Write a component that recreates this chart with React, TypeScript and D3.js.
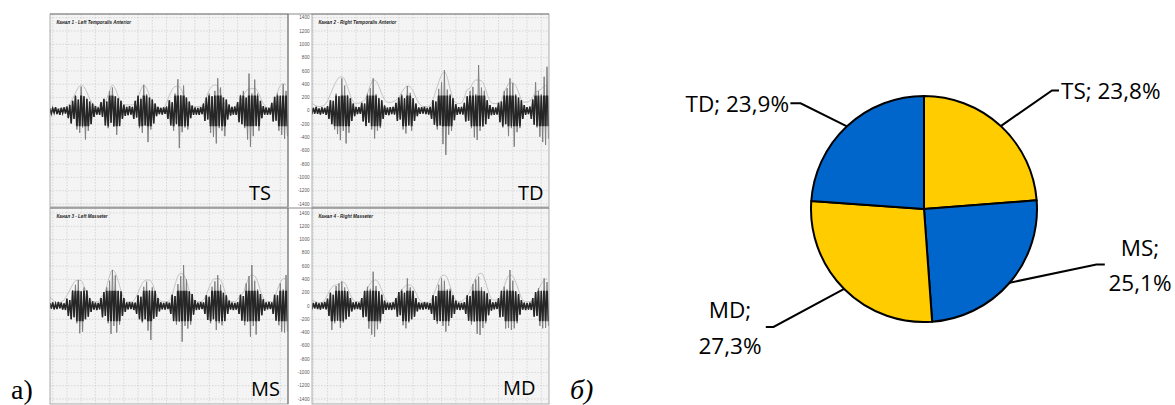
import React, { useRef, useEffect } from 'react';
import * as d3 from 'd3';

// EMG traces (µV), one sample every 0.05 s starting at t = -0.1 s
const sigTS = [
  35, -45, 40, -30, 55, -50, 30, -60, 45, -35, 50, -40, 65,
  -110, 90, -190, 150, -120, 230, -280, 170, -330, 365, -250, 220, -430, 180, -300, 140, -200, 110, -90,
  70, -55, 50, -60,
  130, -90, 180, -220, 140, -260, 300, -180, 350, -240, 220, -360, 190, -230, 150, -120, 90,
  -75, 60, -65, 70, -55, 60,
  -120, 150, -100, 230, -260, 180, -330, 390, -220, 250, -470, 200, -280, 170, -190, 110, -80,
  60, -50, 45, -55, 50, -45, 65,
  -120, 160, -220, 130, -300, 260, -200, 475, -560, 240, -320, 380, -250, 200, -280, 140, -110, 80,
  -60, 50, -55, 45, -60, 55, -50,
  110, -150, 200, -130, 260, -330, 220, -390, 300, -490, 490, -260, 350, -300, 200, -380, 170, -130, 95,
  -70, 60, -55, 65, -60,
  130, -170, 240, -200, 300, -260, 200, -430, 560, -540, 260, -380, 470, -230, 260, -300, 150, -110,
  70, -55, 50, -60, 45, -55,
  120, -160, 210, -150, 260, -300, 230, -360, 400, -420, 300, -380,
];
const sigTD = [
  40, -50, 45, -40, 60, -45, 35, -55, 50, -40, 45, -60, 70,
  -120, 160, -200, 150, -280, 260, -350, 220, -440, 488, -300, 380, -490, 240, -330, 190, -150, 110, -80,
  60, -50, 55, -45,
  120, -160, 110, -230, 260, -180, 340, -280, 488, -415, 250, -300, 190, -260, 160, -120, 80,
  -60, 50, -65, 55, -50, 60, -55,
  120, -150, 200, -130, 250, -280, 190, -340, 373, -220, 270, -300, 190, -150, 110, -80,
  50, -45, 55, -40, 60, -50, 45, -55, 60,
  -120, 160, -210, 140, -280, 330, -220, 430, -500, 613, -663, 320, -360, 250, -300, 190, -140, 100,
  -60, 55, -50, 60, -55,
  120, -160, 220, -150, 300, -260, 360, -400, 250, -438, 688, -300, 350, -240, 300, -200, 160, -120, 85,
  -65, 55, -60, 50, -55,
  120, -170, 140, -250, 300, -200, 340, -380, 488, -260, 420, -538, 250, -320, 200, -260, 160, -120, 85,
  -60, 55, -50, 65,
  -120, 170, -210, 430, -250, 300, -390, 250, -470, 513, -513, 663, -420,
];
const sigMS = [
  45, -40, 55, -50, 35, -45, 60, -35, 50, -55, 40, -60,
  110, -150, 90, -200, 240, -170, 320, -260, 391, -411, 220, -386, 280, -200, 240, -160, 120, -90, 70,
  -55, 50, -60, 45, -50,
  120, -170, 210, -150, 280, -260, 380, -420, 542, -300, 460, -400, 230, -280, 220, -150, 120, -90,
  55, -50, 60, -45, 55, -60, 50,
  -120, 160, -200, 140, -250, 290, -200, 366, -370, 240, -512, 280, -190, 230, -160, 120, -80,
  55, -50, 45, -55, 60, -45, 50,
  -120, 170, -230, 150, -280, 330, -240, 450, -537, 617, -300, 400, -340, 220, -280, 180, -130, 90,
  -60, 50, -55, 60, -45, 55,
  -120, 160, -210, 140, -260, 290, -200, 370, -361, 466, -260, 320, -290, 200, -230, 160, -120, 80,
  -55, 50, -60, 45, -55, 60,
  -120, 170, -220, 150, -290, 340, -240, 450, -462, 617, -300, 380, -430, 250, -230, 180, -140, 100, -70,
  55, -50, 60, -45, 55,
  -120, 170, -220, 160, -290, 340, -386, 250, -400, 466, -380,
];
const sigMD = [
  40, -50, 45, -35, 55, -45, 40, -55, 50, -40, 60, -50,
  110, -150, 200, -361, 170, -260, 300, -220, 340, -330, 366, -250, 280, -200, 220, -160, 120, -80,
  55, -50, 60, -45, 50, -55,
  120, -170, 230, -160, 290, -340, 260, -430, 516, -462, 300, -350, 220, -260, 170, -120, 80,
  -60, 50, -55, 45, -60, 55, -50,
  120, -160, 210, -140, 250, -290, 200, -336, 416, -250, 280, -200, 230, -160, 120, -80,
  55, -50, 45, -55, 60, -45, 50, -55, 45,
  -120, 160, -210, 150, -270, 320, -230, 416, -300, 380, -386, 250, -300, 260, -180, 160, -120, 80,
  -55, 50, -60, 45, -55, 60,
  -120, 160, -220, 150, -280, 330, -240, 400, -420, 441, -436, 280, -330, 220, -260, 190, -140, 100, -70,
  55, -50, 60, -45,
  120, -170, 230, -160, 290, -340, 250, -330, 542, -361, 380, -336, 220, -260, 180, -130, 90,
  -55, 50, -60, 45, -55, 50, -60,
  120, -160, 210, -150, 270, -300, 230, -336, 416, -330, 360, -300,
];

// smoothed envelope (grey line), one point every 0.1 s starting at t = -0.1 s
const envTS = [
  35, 35, 30, 32, 40,
  45, 60, 110, 180, 270, 350, 388, 360, 280, 180, 110, 70,
  55, 120, 110,
  180, 300, 388, 330, 220, 130, 95, 90,
  90, 90, 110,
  200, 320, 388, 340, 230, 120, 60,
  40, 35, 50,
  120, 230, 320, 365, 370, 340, 240, 140, 80, 65,
  65, 65, 70, 100,
  200, 310, 370, 388, 360, 260, 150, 70,
  40, 35, 60, 110,
  140, 230, 300, 330, 335, 338, 300, 200, 110, 60,
  40, 45,
  150, 280, 380, 410, 390,
];
const envTD = [
  120, 100, 75, 65, 70,
  90, 150, 250, 350, 440, 500, 513, 470, 360, 230, 140, 110,
  115, 140, 160,
  260, 380, 463, 450, 370, 260, 170,
  130, 125, 140, 160, 200,
  280, 340, 373, 360, 300, 200, 120,
  75, 65, 65, 90,
  170, 300, 430, 540, 588, 500, 330, 180, 120,
  110, 120, 200,
  320, 340, 420, 463, 463, 450, 380, 250, 150,
  110, 110, 120, 160,
  280, 370, 423, 420, 380, 280, 170, 130,
  130, 150, 200, 280,
  300, 330, 370, 388,
];
const envMS = [
  140, 90, 55, 45, 60,
  90, 160, 240, 320, 380, 391, 380, 300, 190, 110, 70,
  65, 65, 140,
  170, 300, 450, 542, 500, 380, 230, 120, 70,
  55, 65,
  110, 200, 300, 370, 391, 390, 340, 220, 120, 75,
  65, 65, 80,
  170, 320, 450, 492, 470, 380, 230, 110, 70,
  65, 65, 90,
  170, 280, 370, 410, 416, 390, 290, 160, 80,
  65, 65, 100, 165,
  200, 330, 430, 466, 450, 370, 230, 120, 75,
  65, 65, 110,
  250, 350, 410, 416,
];
const envMD = [
  90, 80, 60, 50, 55,
  90, 170, 250, 300, 316, 330, 366, 350, 270, 170, 90,
  65, 65, 90,
  170, 260, 340, 385, 391, 340, 240, 130, 70,
  50, 60,
  100, 170, 240, 290, 316, 316, 280, 200, 110, 60,
  45, 45, 70,
  150, 260, 370, 450, 466, 420, 300, 170, 90,
  65, 70, 100,
  150, 220, 320, 420, 480, 492, 420, 280, 150,
  90, 90, 110,
  180, 300, 420, 466, 450, 360, 240, 130, 75,
  65, 65, 80, 140,
  240, 330, 390, 410,
];

const yTicks = [1400, 1200, 1000, 800, 600, 400, 200, 0, -200, -400, -600, -800, -1000, -1200, -1400];
const channelTitles = [
  'Канал 1 - Left Temporalis Anterior',
  'Канал 2 - Right Temporalis Anterior',
  'Канал 3 - Left Masseter',
  'Канал 4 - Right Masseter',
];
const channelTags = ['TS', 'TD', 'MS', 'MD'];

const pieNames = ['TS', 'MS', 'MD', 'TD'];
const pieValues = [23.8, 25.1, 27.3, 23.9];
const pieColors = ['#FFCC00', '#0066CC', '#FFCC00', '#0066CC'];

const sampleT0 = -0.1;
const sampleDt = 0.05;
const envDt = 0.1;

// layout
const cols = [
  { left: 50, right: 288, t0: -0.095 },
  { left: 312, right: 549, t0: -0.046 },
];
const tEnd = 8.27;
const rows = [
  { top: 14, bottom: 207, yHigh: 17.7, yLow: 204 },
  { top: 208, bottom: 404, yHigh: 213, yLow: 399 },
];
const tagPos = [[249, 200], [518, 199.5], [251, 396], [503, 395]];

const pieCenter = [924, 209];
const pieRadius = 113;
const pieLabelLayout = [
  { elbow: [1052, 90.4], end: [1059, 90.4], x: 1061, anchor: 'start', baselines: [98.5], split: false },
  { elbow: [1096.4, 264.5], end: [1104.8, 264.5], x: 1140, anchor: 'middle', baselines: [255.6, 291], split: true },
  { elbow: [773.5, 327], end: [765.8, 327], x: 730, anchor: 'middle', baselines: [318, 353.5], split: true },
  { elbow: [800.6, 103.3], end: [790.4, 103.3], x: 789, anchor: 'end', baselines: [112], split: false },
];

const App = () => {
  const ref = useRef<SVGSVGElement | null>(null);

  useEffect(() => {
    if (!ref.current) return;
    const svg = d3.select(ref.current);
    svg.selectAll('*').remove();
    const defs = svg.append('defs');

    const panels = [
      { sig: sigTS, env: envTS, col: 0, row: 0 },
      { sig: sigTD, env: envTD, col: 1, row: 0 },
      { sig: sigMS, env: envMS, col: 0, row: 1 },
      { sig: sigMD, env: envMD, col: 1, row: 1 },
    ];
    const gridTimes = d3.range(0, 8.01, 0.5);

    panels.forEach((p, k) => {
      const c = cols[p.col];
      const r = rows[p.row];
      const x = d3.scaleLinear().domain([c.t0, tEnd]).range([c.left, c.right]);
      const y = d3.scaleLinear().domain([-1400, 1400]).range([r.yLow, r.yHigh]);
      const g = svg.append('g');

      g.append('rect')
        .attr('x', c.left).attr('y', r.top)
        .attr('width', c.right - c.left).attr('height', r.bottom - r.top)
        .attr('fill', '#f4f4f4');

      // dashed grid
      g.selectAll('line.vg').data(gridTimes).join('line')
        .attr('class', 'vg')
        .attr('x1', (d) => x(d)).attr('x2', (d) => x(d))
        .attr('y1', r.top).attr('y2', r.bottom)
        .attr('stroke', '#c4c4c4').attr('stroke-width', 0.6).attr('stroke-dasharray', '1.5,1.5');
      g.selectAll('line.hg').data(yTicks).join('line')
        .attr('class', 'hg')
        .attr('x1', c.left).attr('x2', c.right)
        .attr('y1', (d) => y(d)).attr('y2', (d) => y(d))
        .attr('stroke', '#c4c4c4').attr('stroke-width', 0.6).attr('stroke-dasharray', '1.5,1.5');

      defs.append('clipPath').attr('id', `clip-${k}`)
        .append('rect')
        .attr('x', c.left).attr('y', r.top)
        .attr('width', c.right - c.left).attr('height', r.bottom - r.top);
      defs.append('clipPath').attr('id', `core-${k}`)
        .append('rect')
        .attr('x', c.left).attr('y', y(230))
        .attr('width', c.right - c.left).attr('height', y(-230) - y(230));

      const plot = g.append('g').attr('clip-path', `url(#clip-${k})`);

      const envLine = d3.line<number>()
        .curve(d3.curveMonotoneX)
        .x((_, j) => x(sampleT0 + j * envDt))
        .y((v) => y(v));
      plot.append('path')
        .attr('d', envLine(p.env))
        .attr('fill', 'none').attr('stroke', '#b8b8b8').attr('stroke-width', 0.8);

      const sigLine = d3.line<number>()
        .x((_, i) => x(sampleT0 + i * sampleDt))
        .y((v) => y(v));
      plot.append('path')
        .attr('d', sigLine(p.sig))
        .attr('fill', 'none').attr('stroke', '#808080').attr('stroke-width', 1);
      plot.append('g').attr('clip-path', `url(#core-${k})`)
        .append('path')
        .attr('d', sigLine(p.sig))
        .attr('fill', 'none').attr('stroke', '#262626').attr('stroke-width', 1.5);

      g.append('rect')
        .attr('x', c.left).attr('y', r.top)
        .attr('width', c.right - c.left).attr('height', r.bottom - r.top)
        .attr('fill', 'none').attr('stroke', '#9a9a9a').attr('stroke-width', 0.8);

      g.append('text')
        .attr('x', c.left + 6.5).attr('y', r.top + 9.8)
        .attr('font-family', 'Liberation Sans, Arial, sans-serif')
        .attr('font-size', 4.6).attr('font-weight', 'bold').attr('font-style', 'italic')
        .attr('fill', '#222')
        .text(channelTitles[k]);

      g.append('text')
        .attr('x', tagPos[k][0]).attr('y', tagPos[k][1])
        .attr('font-family', 'Open Sans, sans-serif')
        .attr('font-size', 20).attr('fill', '#000')
        .text(channelTags[k]);

      // tick labels sit between the two columns
      if (p.col === 1) {
        g.selectAll('text.tick').data(yTicks).join('text')
          .attr('class', 'tick')
          .attr('x', 309.5).attr('y', (d) => y(d))
          .attr('dy', '0.35em')
          .attr('text-anchor', 'end')
          .attr('font-family', 'Liberation Sans, Arial, sans-serif')
          .attr('font-size', 4.6).attr('fill', '#555')
          .text((d) => d);
      }
    });

    // darker frame edges between the columns
    rows.forEach((r) => {
      svg.append('line')
        .attr('x1', cols[0].right).attr('x2', cols[0].right)
        .attr('y1', r.top).attr('y2', r.bottom)
        .attr('stroke', '#6e6e6e').attr('stroke-width', 1);
      svg.append('line')
        .attr('x1', cols[0].left).attr('x2', cols[1].right)
        .attr('y1', r.top).attr('y2', r.top)
        .attr('stroke', '#7a7a7a').attr('stroke-width', 0.9);
    });

    svg.append('text')
      .attr('x', 11).attr('y', 399)
      .attr('font-family', 'Liberation Serif, Times New Roman, serif')
      .attr('font-size', 28).attr('fill', '#000')
      .text('a)');
    svg.append('text')
      .attr('x', 570).attr('y', 399)
      .attr('font-family', 'Liberation Serif, Times New Roman, serif')
      .attr('font-size', 28).attr('font-style', 'italic').attr('fill', '#000')
      .text('б)');

    // pie chart
    const pie = d3.pie<number>().sort(null).value((d) => d);
    const arcs = pie(pieValues);
    const arc = d3.arc<d3.PieArcDatum<number>>().innerRadius(0).outerRadius(pieRadius);
    const rim = d3.arc<d3.PieArcDatum<number>>().innerRadius(pieRadius).outerRadius(pieRadius);
    const pg = svg.append('g').attr('transform', `translate(${pieCenter[0]},${pieCenter[1]})`);

    pg.selectAll('path.slice').data(arcs).join('path')
      .attr('class', 'slice')
      .attr('d', (d) => arc(d))
      .attr('fill', (_, i) => pieColors[i])
      .attr('stroke', '#000').attr('stroke-width', 2).attr('stroke-linejoin', 'round');

    arcs.forEach((d, i) => {
      const lay = pieLabelLayout[i];
      const [sx, sy] = rim.centroid(d);
      const pts: [number, number][] = [
        [pieCenter[0] + sx, pieCenter[1] + sy],
        [lay.elbow[0], lay.elbow[1]],
        [lay.end[0], lay.end[1]],
      ];
      svg.append('path')
        .attr('d', d3.line()(pts))
        .attr('fill', 'none').attr('stroke', '#000').attr('stroke-width', 2);

      const pct = `${pieValues[i].toFixed(1).replace('.', ',')}%`;
      const lines = lay.split ? [`${pieNames[i]};`, pct] : [`${pieNames[i]}; ${pct}`];
      lines.forEach((t, li) => {
        svg.append('text')
          .attr('x', lay.x).attr('y', lay.baselines[li])
          .attr('text-anchor', lay.anchor)
          .attr('font-family', 'Open Sans, sans-serif')
          .attr('font-size', 22.5).attr('fill', '#000')
          .text(t);
      });
    });

    return () => {
      svg.selectAll('*').remove();
    };
  }, []);

  return (
    <svg
      ref={ref}
      width={1175}
      height={405}
      style={{ position: 'absolute', left: 0, top: 0, background: '#fff' }}
    />
  );
};

export default App;
